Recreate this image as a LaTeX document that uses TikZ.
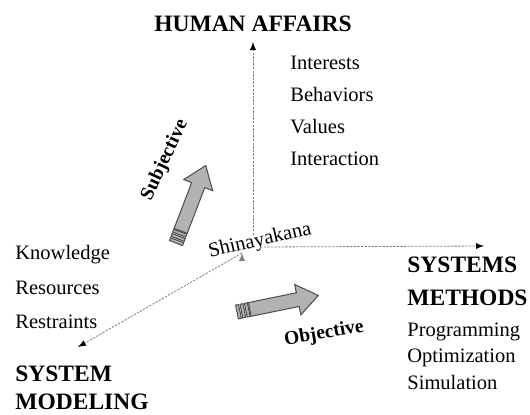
\documentclass[tikz,border=0pt]{standalone}
\usepackage{fontspec}
\setmainfont{Liberation Serif}
\usepackage{tikz}
\usetikzlibrary{arrows}

\begin{document}
\begin{tikzpicture}[x=0.5pt,y=-0.5pt]
	\tikzset{
		axisline/.style={draw=black!50,line width=0.4pt,dash pattern=on 1.2pt off 0.6pt,-latex},
		heading/.style={font=\fontsize{11.75}{16.5}\selectfont\bfseries,inner sep=0pt,align=left,anchor=west},
		entry/.style={font=\fontsize{10.25}{16}\selectfont,inner sep=0pt,align=left,anchor=west},
		tilted/.style={font=\fontsize{9.75}{12}\selectfont\bfseries,inner sep=0pt},
		arrowbody/.style={fill=gray!60,draw=black!70,line width=0.5pt},
		fatarrow/.pic={
			\foreach \s in {0,4.5,9}
				\draw[arrowbody] (\s,-7) rectangle ++(3,14);
			\draw[arrowbody] (13,-7) -- (62,-7) -- (62,-15.5) -- (83,0) -- (62,15.5) -- (62,7) -- (13,7) -- cycle;
		}
	}
	\useasboundingbox (0,0) rectangle (530,414);
	% headings
	\node[heading,anchor=center] (human) at (253,24) {HUMAN AFFAIRS};
	\node[heading] (methods) at (407,281) {SYSTEMS\\METHODS};
	\node[heading] (modeling) at (15,388) {SYSTEM\\[-2.5pt]MODELING};
	% lists
	\node[entry] (values) at (290,111) {Interests\\Behaviors\\Values\\Interaction};
	\node[entry] (means) at (15,287) {Knowledge\\[1.25pt]Resources\\[1.25pt]Restraints};
	\node[entry] (tools) at (407,356) {Programming\\[-2.75pt]Optimization\\[-2.75pt]Simulation};
	% centre and tilted labels
	\node[entry,anchor=center,rotate=13] (shina) at (260,241) {Shinayakana};
	\node[tilted,rotate=65] (subj) at (165,160) {Subjective};
	\node[tilted,rotate=10] (obj) at (324,334) {Objective};
	% axes
	\coordinate (vfoot) at (253,235);
	\coordinate (vtip) at (253,42);
	\coordinate (hfoot) at (260,247);
	\coordinate (htip) at (484,246);
	\coordinate (ofoot) at (242,253);
	\coordinate (otip) at (78,347);
	\path[axisline]
		(vfoot) edge (vtip)
		(hfoot) edge (htip)
		(ofoot) edge (otip);
	% big arrows
	\pic[rotate=69] at (176,243) {fatarrow};
	\pic[rotate=11.5] at (237,312) {fatarrow};
\end{tikzpicture}
\end{document}
